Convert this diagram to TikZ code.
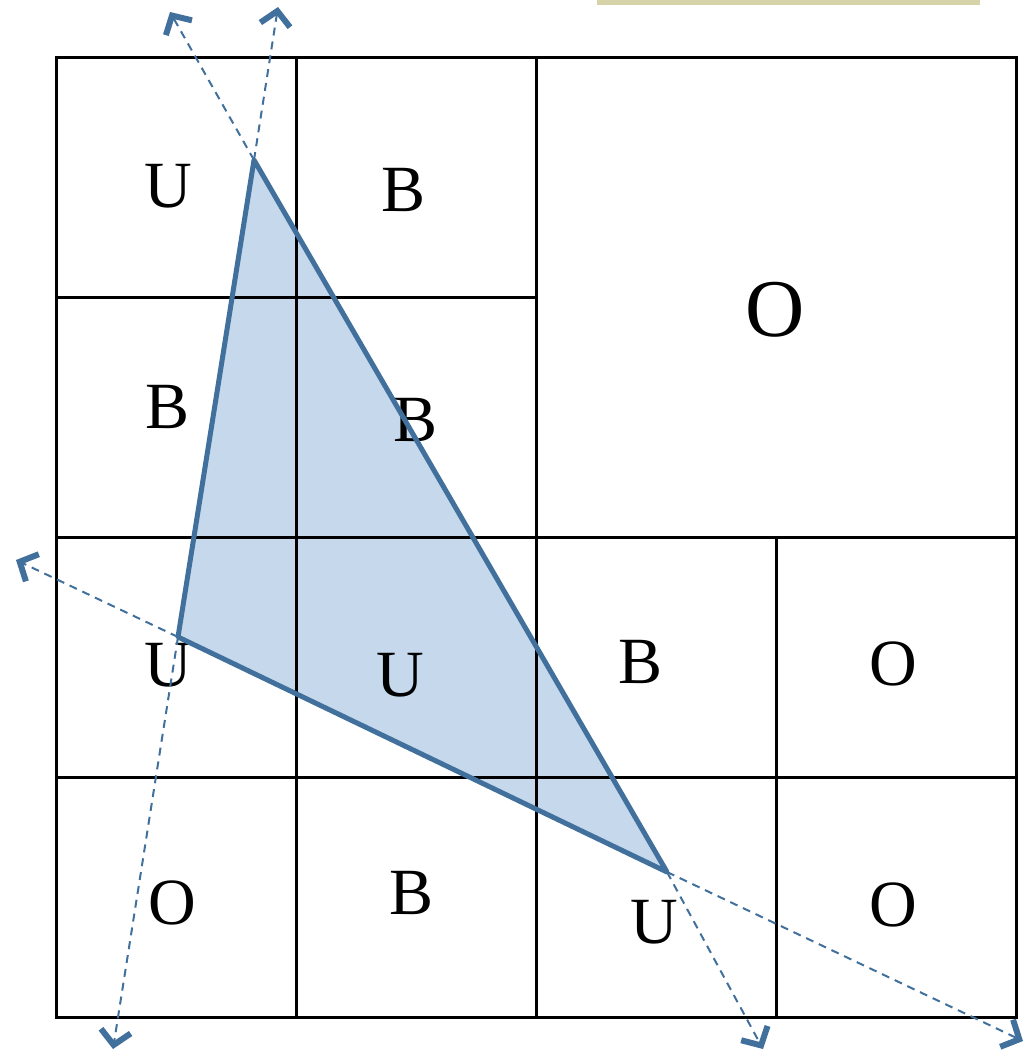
\documentclass[tikz,border=0pt]{standalone}
\usepackage{fontspec}
\setmainfont{Liberation Serif}
\usetikzlibrary{arrows.meta}
\definecolor{triline}{HTML}{41709C}
\definecolor{trifill}{HTML}{C5D8EC}
\definecolor{beige}{HTML}{D6D3A8}
\tikzset{
  gridline/.style={line width=3pt, black},
  triedge/.style={line width=5pt, triline, line join=round},
  ray/.style={triline, line width=2pt, dash pattern=on 8pt off 6pt,
     -{Straight Barb[length=14pt,width=30pt,line width=6pt]}},
  lbl/.style={font=\fontsize{66}{66}\selectfont, inner sep=0pt},
  biglbl/.style={font=\fontsize{82}{82}\selectfont, inner sep=0pt}
}
\begin{document}
\begin{tikzpicture}[x=1pt,y=-1pt]
\useasboundingbox (0,0) rectangle (1028,1052);
\fill[beige] (597,0) rectangle (980,5);
% vertices
\coordinate (A) at (254,160);
\coordinate (V) at (178,637);
\coordinate (C) at (667,872);
% ray ends
\coordinate (A1) at (170,12);
\coordinate (A2) at (278,7);
\coordinate (V1) at (16,560);
\coordinate (V2) at (113,1049);
\coordinate (C1) at (763,1049);
\coordinate (C2) at (1023,1041);
% fill
\fill[trifill] (A) -- (V) -- (C) -- cycle;
% grid
\draw[gridline] (56,57) rectangle (1016,1017);
\draw[gridline] (56,297) -- (536,297);
\draw[gridline] (56,537) -- (1016,537);
\draw[gridline] (56,777) -- (1016,777);
\draw[gridline] (296,57) -- (296,1017);
\draw[gridline] (536,57) -- (536,1017);
\draw[gridline] (776,537) -- (776,1017);
% labels
\node[lbl] (l1) at (168,186) {U};
\node[lbl] (l2) at (404,190) {B};
\node[biglbl] (l3) at (775,310) {O};
\node[lbl] (l4) at (168,407) {B};
\node[lbl] (l5) at (416,420) {B};
\node[lbl] (l6) at (168,665) {U};
\node[lbl] (l7) at (400,675) {U};
\node[lbl] (l8) at (641,662) {B};
\node[lbl] (l9) at (893,664) {O};
\node[lbl] (l10) at (172,903) {O};
\node[lbl] (l11) at (412,893) {B};
\node[lbl] (l12) at (654,922) {U};
\node[lbl] (l13) at (893,905) {O};
% rays
\draw[ray] (A) -- (A1);
\draw[ray] (A) -- (A2);
\draw[ray] (V) -- (V1);
\draw[ray] (V) -- (V2);
\draw[ray] (C) -- (C1);
\draw[ray] (C) -- (C2);
% triangle outline
\draw[triedge] (A) -- (V) -- (C) -- cycle;
\end{tikzpicture}
\end{document}
